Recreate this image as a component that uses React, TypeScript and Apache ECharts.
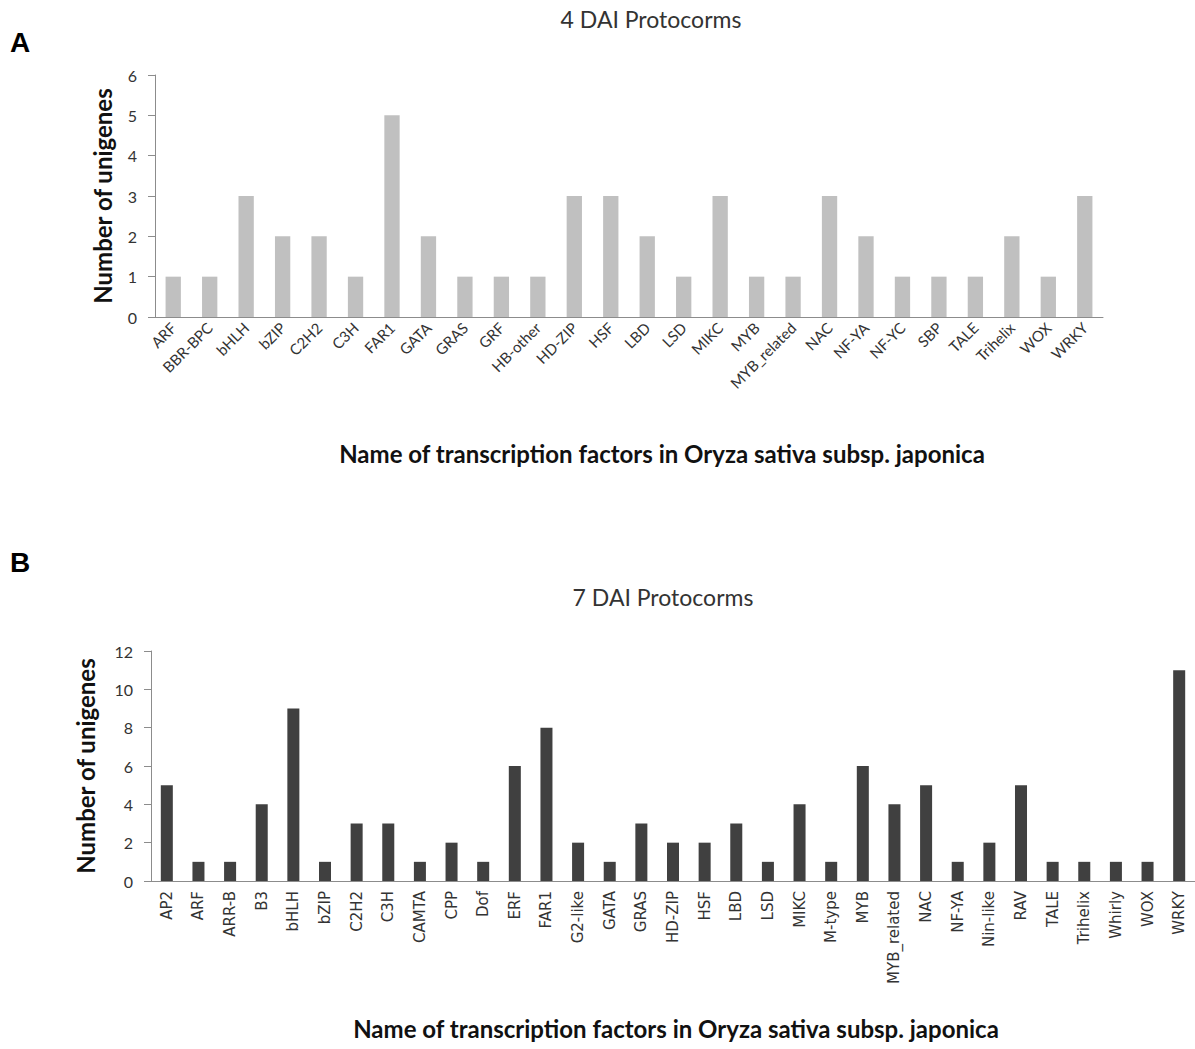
import React, { useEffect, useRef } from "react";
import * as echarts from "echarts";

const categoriesA = ["ARF","BBR-BPC","bHLH","bZIP","C2H2","C3H","FAR1","GATA","GRAS","GRF","HB-other","HD-ZIP","HSF","LBD","LSD","MIKC","MYB","MYB_related","NAC","NF-YA","NF-YC","SBP","TALE","Trihelix","WOX","WRKY"];
const valuesA = [1,1,3,2,2,1,5,2,1,1,1,3,3,2,1,3,1,1,3,2,1,1,1,2,1,3];

const categoriesB = ["AP2","ARF","ARR-B","B3","bHLH","bZIP","C2H2","C3H","CAMTA","CPP","Dof","ERF","FAR1","G2-like","GATA","GRAS","HD-ZIP","HSF","LBD","LSD","MIKC","M-type","MYB","MYB_related","NAC","NF-YA","Nin-like","RAV","TALE","Trihelix","Whirly","WOX","WRKY"];
const valuesB = [5,1,1,4,9,1,3,3,1,2,1,6,8,2,1,3,2,2,3,1,4,1,6,4,5,1,2,5,1,1,1,1,11];

const titleA = "4 DAI Protocorms";
const titleB = "7 DAI Protocorms";
const xName = "Name of transcription factors in Oryza sativa subsp. japonica";
const yName = "Number of unigenes";

export default function App() {
  const ref = useRef<HTMLDivElement>(null);
  useEffect(() => {
    const chart = echarts.init(ref.current!, null, { renderer: "svg" });
    const axisLine = { show: true, lineStyle: { color: "#8c8c8c", width: 1 } };
    const yNameStyle = { fontFamily: "Lato", fontWeight: "bold", fontSize: 24, color: "#111" };
    const xNameFont = "bold 24px Lato";
    chart.setOption({
      animation: false,
      backgroundColor: "#fff",
      graphic: [
        { type: "text", left: 10, top: 28, style: { text: "A", font: "bold 28px 'Liberation Sans'", fill: "#000" } },
        { type: "text", left: 10, top: 548, style: { text: "B", font: "bold 28px 'Liberation Sans'", fill: "#000" } },
        { type: "text", x: 651, y: 7, style: { text: titleA, font: "23px Lato", fill: "#333", textAlign: "center" } },
        { type: "text", x: 663, y: 585, style: { text: titleB, font: "23px Lato", fill: "#333", textAlign: "center" } },
        { type: "text", x: 662, y: 441, style: { text: xName, font: xNameFont, fill: "#111", textAlign: "center" } },
        { type: "text", x: 676, y: 1016, style: { text: xName, font: xNameFont, fill: "#111", textAlign: "center" } },
      ],
      grid: [
        { left: 155, right: 92, top: 75, height: 242 },
        { left: 151, right: -7, top: 651, height: 230 },
      ],
      xAxis: [
        {
          type: "category", gridIndex: 0, data: categoriesA,
          axisLine, axisTick: { show: false },
          axisLabel: { rotate: 45, fontFamily: "Lato", fontSize: 15, color: "#333", margin: 8, interval: 0 },
        },
        {
          type: "category", gridIndex: 1, data: categoriesB,
          axisLine, axisTick: { show: false },
          axisLabel: { rotate: 90, fontFamily: "DejaVu Sans", fontSize: 15, color: "#333", margin: 10, interval: 0 },
        },
      ],
      yAxis: [
        {
          type: "value", gridIndex: 0, min: 0, max: 6, interval: 1,
          axisLine, axisTick: { show: true, length: 7, lineStyle: { color: "#8c8c8c" } },
          splitLine: { show: false },
          axisLabel: { fontFamily: "Lato", fontSize: 16, color: "#333", margin: 18 },
          name: yName, nameLocation: "middle", nameGap: 41, nameTextStyle: yNameStyle,
        },
        {
          type: "value", gridIndex: 1, min: 0, max: 12, interval: 2,
          axisLine, axisTick: { show: true, length: 7, lineStyle: { color: "#8c8c8c" } },
          splitLine: { show: false },
          axisLabel: { fontFamily: "Lato", fontSize: 16, color: "#333", margin: 18 },
          name: yName, nameLocation: "middle", nameGap: 54, nameTextStyle: yNameStyle,
        },
      ],
      series: [
        { type: "bar", xAxisIndex: 0, yAxisIndex: 0, data: valuesA, barWidth: "42%", itemStyle: { color: "#c0c0c0" } },
        { type: "bar", xAxisIndex: 1, yAxisIndex: 1, data: valuesB, barWidth: "38%", itemStyle: { color: "#404040" } },
      ],
    });
    return () => chart.dispose();
  }, []);
  return <div ref={ref} style={{ position: "absolute", left: 0, top: 0, width: 1195, height: 1049 }} />;
}
